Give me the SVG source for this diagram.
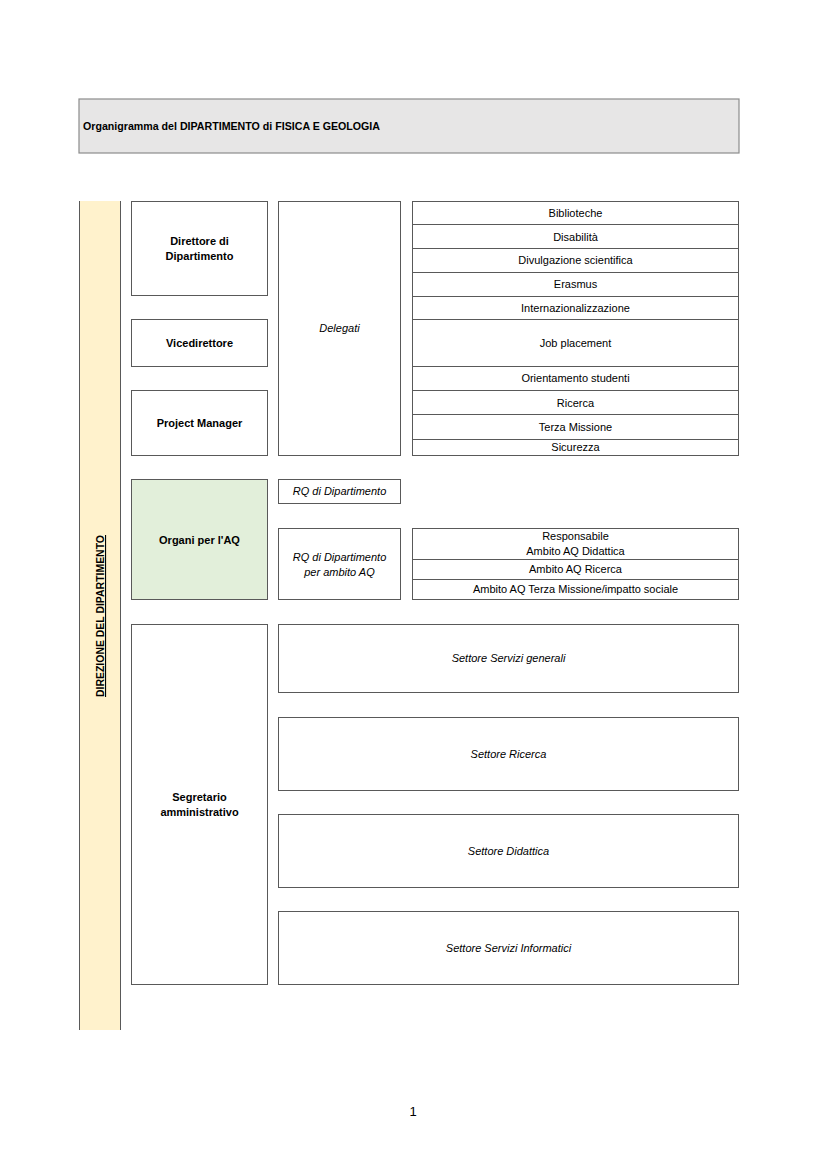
<svg xmlns="http://www.w3.org/2000/svg" width="826" height="1169" viewBox="0 0 826 1169">
<style>
.box{fill:#ffffff;stroke:#595959;stroke-width:1}
.hdr{fill:#e7e6e6;stroke:#8c8c8c;stroke-width:1.2}
.green{fill:#e2efda;stroke:#595959;stroke-width:1}
.yel{fill:#fff2cc;stroke:none}
.edge{stroke:#595959;stroke-width:1}
text{font-family:"Liberation Sans",Arial,sans-serif;font-size:11px;fill:#000}
.b{font-weight:bold}
.i{font-style:italic}
.c{text-anchor:middle}
</style>
<rect width="826" height="1169" fill="#ffffff"/>

<g id="header">
<rect class="hdr" x="79" y="99" width="660" height="54"/>
<text class="b" x="83" y="130" textLength="297" lengthAdjust="spacingAndGlyphs">Organigramma del DIPARTIMENTO di FISICA E GEOLOGIA</text>
</g>

<g id="direzione">
<rect class="yel" x="79" y="201" width="42" height="829"/>
<line class="edge" x1="79.5" y1="201" x2="79.5" y2="1030"/>
<line class="edge" x1="120.5" y1="201" x2="120.5" y2="1030"/>
<text class="b c" transform="translate(104,616) rotate(-90)" text-decoration="underline" textLength="162" lengthAdjust="spacingAndGlyphs">DIREZIONE DEL DIPARTIMENTO</text>
</g>

<g id="direttore">
<rect class="box" x="131.5" y="201.5" width="136" height="94"/>
<text class="b c" x="199.5" y="245">Direttore di</text>
<text class="b c" x="199.5" y="260">Dipartimento</text>
</g>
<g id="vicedirettore">
<rect class="box" x="131.5" y="319.5" width="136" height="47"/>
<text class="b c" x="199.5" y="347">Vicedirettore</text>
</g>
<g id="project-manager">
<rect class="box" x="131.5" y="390.5" width="136" height="65"/>
<text class="b c" x="199.5" y="427">Project Manager</text>
</g>
<g id="delegati">
<rect class="box" x="278.5" y="201.5" width="122" height="254"/>
<text class="i c" x="339.5" y="332">Delegati</text>
</g>

<g id="deleghe">
<rect class="box" x="412.5" y="201.5" width="326" height="254"/>
<line class="edge" x1="412" y1="224.5" x2="739" y2="224.5"/>
<line class="edge" x1="412" y1="248.5" x2="739" y2="248.5"/>
<line class="edge" x1="412" y1="272.5" x2="739" y2="272.5"/>
<line class="edge" x1="412" y1="296.5" x2="739" y2="296.5"/>
<line class="edge" x1="412" y1="319.5" x2="739" y2="319.5"/>
<line class="edge" x1="412" y1="366.5" x2="739" y2="366.5"/>
<line class="edge" x1="412" y1="390.5" x2="739" y2="390.5"/>
<line class="edge" x1="412" y1="414.5" x2="739" y2="414.5"/>
<line class="edge" x1="412" y1="439.5" x2="739" y2="439.5"/>
<text class="c" x="575.5" y="217">Biblioteche</text>
<text class="c" x="575.5" y="241">Disabilità</text>
<text class="c" x="575.5" y="264">Divulgazione scientifica</text>
<text class="c" x="575.5" y="288">Erasmus</text>
<text class="c" x="575.5" y="312">Internazionalizzazione</text>
<text class="c" x="575.5" y="347">Job placement</text>
<text class="c" x="575.5" y="382">Orientamento studenti</text>
<text class="c" x="575.5" y="407">Ricerca</text>
<text class="c" x="575.5" y="431">Terza Missione</text>
<text class="c" x="575.5" y="451">Sicurezza</text>
</g>

<g id="organi-aq">
<rect class="green" x="131.5" y="479.5" width="136" height="120"/>
<text class="b c" x="199.5" y="544">Organi per l'AQ</text>
</g>
<g id="rq-dipartimento">
<rect class="box" x="278.5" y="479.5" width="122" height="24"/>
<text class="i c" x="339.5" y="495">RQ di Dipartimento</text>
</g>
<g id="rq-ambito">
<rect class="box" x="278.5" y="528.5" width="122" height="71"/>
<text class="i c" x="339.5" y="561">RQ di Dipartimento</text>
<text class="i c" x="339.5" y="576">per ambito AQ</text>
</g>
<g id="ambiti-aq">
<rect class="box" x="412.5" y="528.5" width="326" height="71"/>
<line class="edge" x1="412" y1="559.5" x2="739" y2="559.5"/>
<line class="edge" x1="412" y1="579.5" x2="739" y2="579.5"/>
<text class="c" x="575.5" y="540">Responsabile</text>
<text class="c" x="575.5" y="555">Ambito AQ Didattica</text>
<text class="c" x="575.5" y="573">Ambito AQ Ricerca</text>
<text class="c" x="575.5" y="593">Ambito AQ Terza Missione/impatto sociale</text>
</g>

<g id="segretario">
<rect class="box" x="131.5" y="624.5" width="136" height="360"/>
<text class="b c" x="199.5" y="801">Segretario</text>
<text class="b c" x="199.5" y="816">amministrativo</text>
</g>
<g id="settore-servizi-generali">
<rect class="box" x="278.5" y="624.5" width="460" height="68"/>
<text class="i c" x="508.5" y="662">Settore Servizi generali</text>
</g>
<g id="settore-ricerca">
<rect class="box" x="278.5" y="717.5" width="460" height="73"/>
<text class="i c" x="508.5" y="758">Settore Ricerca</text>
</g>
<g id="settore-didattica">
<rect class="box" x="278.5" y="814.5" width="460" height="73"/>
<text class="i c" x="508.5" y="855">Settore Didattica</text>
</g>
<g id="settore-servizi-informatici">
<rect class="box" x="278.5" y="911.5" width="460" height="73"/>
<text class="i c" x="508.5" y="952">Settore Servizi Informatici</text>
</g>

<g id="connectors"></g>

<text class="c" x="413" y="1116" style="font-size:13px">1</text>
</svg>
